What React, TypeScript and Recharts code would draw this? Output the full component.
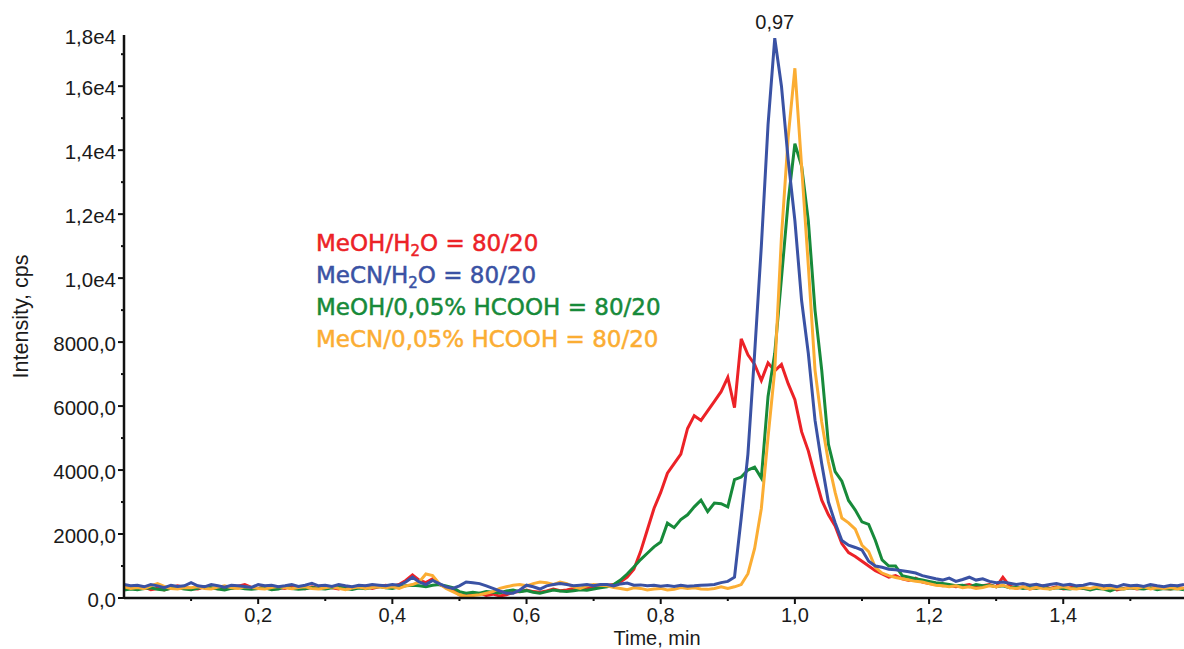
import { Label, Legend, Line, LineChart, ReferenceDot, XAxis, YAxis } from "recharts";

const TIME = [
  0.0, 0.01, 0.02, 0.03, 0.04, 0.05, 0.06, 0.07, 0.08, 0.09,
  0.1, 0.11, 0.12, 0.13, 0.14, 0.15, 0.16, 0.17, 0.18, 0.19,
  0.2, 0.21, 0.22, 0.23, 0.24, 0.25, 0.26, 0.27, 0.28, 0.29,
  0.3, 0.31, 0.32, 0.33, 0.34, 0.35, 0.36, 0.37, 0.38, 0.39,
  0.4, 0.41, 0.42, 0.43, 0.44, 0.45, 0.46, 0.47, 0.48, 0.49,
  0.5, 0.51, 0.52, 0.53, 0.54, 0.55, 0.56, 0.57, 0.58, 0.59,
  0.6, 0.61, 0.62, 0.63, 0.64, 0.65, 0.66, 0.67, 0.68, 0.69,
  0.7, 0.71, 0.72, 0.73, 0.74, 0.75, 0.76, 0.77, 0.78, 0.79,
  0.8, 0.81, 0.82, 0.83, 0.84, 0.85, 0.86, 0.87, 0.88, 0.89,
  0.9, 0.91, 0.92, 0.93, 0.94, 0.95, 0.96, 0.97, 0.98, 0.99,
  1.0, 1.01, 1.02, 1.03, 1.04, 1.05, 1.06, 1.07, 1.08, 1.09,
  1.1, 1.11, 1.12, 1.13, 1.14, 1.15, 1.16, 1.17, 1.18, 1.19,
  1.2, 1.21, 1.22, 1.23, 1.24, 1.25, 1.26, 1.27, 1.28, 1.29,
  1.3, 1.31, 1.32, 1.33, 1.34, 1.35, 1.36, 1.37, 1.38, 1.39,
  1.4, 1.41, 1.42, 1.43, 1.44, 1.45, 1.46, 1.47, 1.48, 1.49,
  1.5, 1.51, 1.52, 1.53, 1.54, 1.55, 1.56, 1.57, 1.58,
];

// MeOH/H2O = 80/20
const MEOH_H2O = [
  300, 330, 280, 350, 260, 300, 250, 320, 380, 330,
  300, 280, 350, 310, 290, 330, 300, 370, 420, 330,
  300, 350, 280, 330, 300, 380, 320, 290, 350, 300,
  380, 320, 280, 350, 300, 330, 370, 300, 350, 400,
  360, 420, 550, 720, 560, 480, 600, 420, 330, 250,
  100, 60, 90, 150, 80, 120, 60, 100, 180, 200,
  250, 200, 180, 220, 280, 230, 250, 300, 280, 320,
  350, 380, 400, 420, 500, 650, 900, 1450, 2125, 2800,
  3300, 3900, 4200, 4500, 5300, 5700, 5550, 5850, 6150, 6450,
  6900, 5950, 8100, 7600, 7300, 6800, 7350, 7100, 7300, 6700,
  6200, 5200, 4600, 3800, 3060, 2600, 2250, 1700, 1420, 1300,
  1150, 1000, 850, 750, 650, 700, 600, 550, 620, 500,
  450, 420, 380, 400, 350, 380, 420, 350, 380, 420,
  350, 650, 380, 300, 350, 280, 320, 380, 300, 350,
  280, 320, 350, 300, 280, 330, 300, 380, 250, 300,
  330, 280, 320, 300, 350, 300, 280, 330, 300,
];

// MeCN/H2O = 80/20
const MECN_H2O = [
  420, 380, 400, 350, 420, 380, 320, 400, 360, 380,
  480, 380, 350, 420, 380, 340, 400, 380, 360, 330,
  420, 380, 400, 350, 380, 420, 360, 400, 460, 380,
  400, 360, 420, 380, 350, 400, 380, 420, 400, 380,
  420, 400, 500, 650, 500, 420, 550, 450, 350, 300,
  380, 500, 480, 450, 380, 300, 220, 150, 150, 250,
  400, 350, 280, 380, 420, 450, 420, 380, 400, 420,
  380, 420, 420, 380, 440, 470, 400, 410, 380, 400,
  370, 390, 360, 400, 370, 380, 400, 410, 420, 480,
  520, 650, 2500, 4500, 7650, 11000, 14800, 17500, 16000, 13700,
  11800, 9300, 7650, 5560, 4200, 3000, 2350, 1800, 1650, 1580,
  1500, 1150, 1000, 960, 900, 880, 850, 820, 780, 700,
  650, 600, 560, 620, 520, 580, 650, 560, 600, 520,
  480, 500, 460, 420, 450, 400, 430, 380, 420, 450,
  400, 430, 380, 400, 450, 420, 380, 400, 350, 420,
  380, 400, 360, 420, 380, 350, 400, 380, 420,
];

// MeOH/0,05% HCOOH = 80/20
const MEOH_HCOOH = [
  250, 280, 260, 300, 320, 270, 250, 300, 320, 280,
  260, 300, 350, 320, 280, 250, 300, 330, 290, 270,
  300, 320, 260, 280, 350, 300, 270, 290, 330, 300,
  280, 320, 350, 300, 270, 310, 290, 330, 360, 320,
  300, 350, 380, 400, 380, 350, 400, 420, 380, 320,
  200, 150, 180, 150, 200, 180, 160, 220, 250, 200,
  230, 180, 150, 200, 250, 220, 200, 230, 260, 240,
  280, 320, 350, 420, 560, 750, 970, 1200, 1400, 1600,
  1750, 2340, 2200, 2450, 2600, 2850, 3060, 2700, 2970, 2950,
  2850, 3700, 3780, 4000, 4090, 3750, 6300, 7650, 10000, 12400,
  14200, 13500, 11800, 9000, 7125, 4800, 3950, 3650, 3050, 2750,
  2380, 2300, 1800, 1190, 1000, 1000, 700, 650, 600, 560,
  520, 480, 450, 420, 380, 400, 350, 420, 380, 400,
  350, 380, 320, 350, 300, 330, 300, 350, 280, 320,
  300, 280, 330, 300, 250, 300, 280, 220, 300, 280,
  320, 300, 280, 320, 260, 300, 280, 300, 260,
];

// MeCN/0,05% HCOOH = 80/20
const MECN_HCOOH = [
  350, 300, 330, 290, 380, 450, 360, 300, 280, 330,
  320, 350, 300, 280, 340, 380, 320, 300, 350, 330,
  300, 280, 330, 360, 320, 290, 330, 350, 300, 280,
  320, 350, 300, 260, 310, 340, 300, 330, 350, 320,
  350, 300, 380, 420, 500, 750, 700, 450, 300, 200,
  100, 50, 80, 100, 150, 200, 300, 350, 400, 420,
  380, 450, 500, 480, 420, 500, 450, 350, 300, 380,
  420, 400, 380, 330, 300, 260, 320, 300, 250, 280,
  300, 250, 270, 330, 300, 320, 280, 270, 300, 350,
  300, 350, 420, 760, 1550, 2800, 5030, 7125, 11300, 14400,
  16560, 13500, 10400, 7125, 5500, 4250, 3300, 2500, 2350, 2150,
  1650, 1450, 950, 780, 700, 640, 600, 560, 520, 500,
  450, 400, 380, 350, 380, 320, 350, 300, 330, 380,
  350, 400, 320, 300, 350, 280, 330, 300, 280, 320,
  350, 300, 280, 330, 300, 350, 280, 320, 300, 280,
  330, 300, 350, 280, 320, 300, 330, 280, 310,
];

// legend text is split so the "2" in H2O can be set as a subscript
const SERIES = [
  { key: "meohH2o", parts: ["MeOH/H", "2", "O = 80/20"], color: "#ec2227" },
  { key: "mecnH2o", parts: ["MeCN/H", "2", "O = 80/20"], color: "#3a52a4" },
  { key: "meohFa", parts: ["MeOH/0,05% HCOOH = 80/20"], color: "#178a3a" },
  { key: "mecnFa", parts: ["MeCN/0,05% HCOOH = 80/20"], color: "#fbad33" },
];
// drawing order, last on top
const DRAW_ORDER = ["meohH2o", "meohFa", "mecnFa", "mecnH2o"];

const X_TICKS = [0.1, 0.2, 0.3, 0.4, 0.5, 0.6, 0.7, 0.8, 0.9, 1.0, 1.1, 1.2, 1.3, 1.4, 1.5];
const Y_MAX = 17600;
const Y_TICKS = [
  0, 1000, 2000, 3000, 4000, 5000, 6000, 7000, 8000, 9000,
  10000, 11000, 12000, 13000, 14000, 15000, 16000, 17000, 17600,
];

const data = TIME.map((t, i) => ({
  t,
  meohH2o: MEOH_H2O[i],
  mecnH2o: MECN_H2O[i],
  meohFa: MEOH_HCOOH[i],
  mecnFa: MECN_HCOOH[i],
}));

const peakIdx = MECN_H2O.indexOf(Math.max(...MECN_H2O));

const FONT = '"Liberation Sans", Arial, sans-serif';
const INK = "#1a1a1a";

const fmtY = (v: number) =>
  v >= 10000 ? (v / 10000).toFixed(1).replace(".", ",") + "e4" : v.toFixed(1).replace(".", ",");

function YTick(props: any) {
  const { x, y, payload } = props;
  const v = payload.value;
  const isTop = v === Y_MAX;
  const major = v % 2000 === 0 || isTop;
  return (
    <g>
      {!isTop && <line x1={x - (major ? 6 : 3)} x2={x} y1={y} y2={y} stroke="#111" strokeWidth={2} />}
      {major && (
        <text x={x - 8} y={y + 1} textAnchor="end" dominantBaseline="central" fontSize={20.5} fontFamily={FONT} fill={INK}>
          {fmtY(v)}
        </text>
      )}
    </g>
  );
}

function XTick(props: any) {
  const { x, y, payload } = props;
  const v = payload.value;
  const major = Math.round(v * 10) % 2 === 0;
  return (
    <g>
      <line x1={x} x2={x} y1={y} y2={y + (major ? 6 : 3)} stroke="#111" strokeWidth={2} />
      {major && (
        <text x={x} y={y + 17} textAnchor="middle" dominantBaseline="central" fontSize={20} fontFamily={FONT} fill={INK}>
          {v.toFixed(1).replace(".", ",")}
        </text>
      )}
    </g>
  );
}

function LegendBox() {
  return (
    <div
      style={{
        fontFamily: '"DejaVu Sans", sans-serif',
        fontSize: 23,
        whiteSpace: "nowrap",
      }}
    >
      {SERIES.map((s) => (
        <div
          key={s.key}
          style={{ color: s.color, WebkitTextStroke: `0.5px ${s.color}`, height: 32, lineHeight: "32px" }}
        >
          {s.parts.length === 3 ? (
            <>
              {s.parts[0]}
              <span style={{ fontSize: 15, lineHeight: "10px", position: "relative", top: 5 }}>{s.parts[1]}</span>
              {s.parts[2]}
            </>
          ) : (
            s.parts[0]
          )}
        </div>
      ))}
    </div>
  );
}

export default function App() {
  return (
    <div style={{ position: "absolute", left: 0, top: 0, width: 1184, height: 649, background: "#fff" }}>
      <LineChart width={1184} height={649} data={data} margin={{ top: 35, right: 0, bottom: 0, left: 0 }}>
        <XAxis
          dataKey="t"
          type="number"
          domain={[0, 1.58]}
          ticks={X_TICKS}
          height={51}
          tickSize={0}
          tickMargin={0}
          tickLine={false}
          axisLine={{ stroke: "#111", strokeWidth: 2.5 }}
          tick={<XTick />}
          interval={0}
        >
          <Label
            content={({ viewBox }: any) => (
              <text
                x={viewBox.x + viewBox.width / 2 + 3}
                y={viewBox.y + 40}
                textAnchor="middle"
                dominantBaseline="central"
                fontSize={20}
                fontFamily={FONT}
                fill={INK}
              >
                Time, min
              </text>
            )}
          />
        </XAxis>
        <YAxis
          type="number"
          domain={[0, Y_MAX]}
          ticks={Y_TICKS}
          width={124}
          tickSize={0}
          tickMargin={0}
          tickLine={false}
          axisLine={{ stroke: "#111", strokeWidth: 2.5 }}
          tick={<YTick />}
          interval={0}
          allowDataOverflow
        >
          <Label
            content={({ viewBox }: any) => {
              const cx = viewBox.x + 21;
              const cy = viewBox.y + viewBox.height / 2;
              return (
                <text
                  x={cx}
                  y={cy}
                  transform={`rotate(-90 ${cx} ${cy})`}
                  textAnchor="middle"
                  dominantBaseline="central"
                  fontSize={21.5}
                  fontFamily={FONT}
                  fill={INK}
                >
                  Intensity, cps
                </text>
              );
            }}
          />
        </YAxis>
        {DRAW_ORDER.map((k) => {
          const s = SERIES.find((d) => d.key === k)!;
          return (
            <Line
              key={k}
              dataKey={k}
              name={s.parts.join("")}
              type="linear"
              stroke={s.color}
              strokeWidth={3}
              dot={false}
              activeDot={false}
              isAnimationActive={false}
            />
          );
        })}
        <ReferenceDot
          x={TIME[peakIdx]}
          y={MECN_H2O[peakIdx]}
          r={0}
          stroke="none"
          fill="none"
          label={{
            value: TIME[peakIdx].toFixed(2).replace(".", ","),
            position: "top",
            offset: 9,
            fontSize: 20,
            fontFamily: FONT,
            fill: INK,
          }}
        />
        <Legend
          layout="horizontal"
          verticalAlign="middle"
          align="center"
          wrapperStyle={{ left: 316, top: 227, width: "auto" }}
          content={() => <LegendBox />}
        />
      </LineChart>
    </div>
  );
}
